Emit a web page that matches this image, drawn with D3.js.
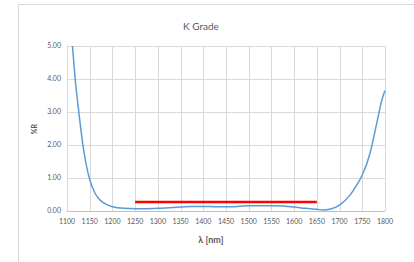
<!DOCTYPE html>
<html>
<head>
<meta charset="utf-8">
<script src="https://cdn.jsdelivr.net/npm/d3@7"></script>
<style>
  body { margin: 0; background: #fff; }
  svg { display: block; }
</style>
</head>
<body>
<svg id="chart" width="414" height="262"></svg>
<script>
// wavelength (nm) and reflectance (%R)
const wavelengths = [1112, 1118, 1126, 1135, 1149, 1162, 1173, 1187, 1200, 1225, 1250, 1275, 1300, 1325, 1350, 1375, 1400, 1425, 1450, 1475, 1500, 1525, 1550, 1575, 1600, 1625, 1650, 1665, 1680, 1700, 1723, 1738, 1750, 1767, 1782, 1793, 1800];
const reflectance = [5.0, 4.0, 3.0, 2.0, 1.0, 0.53, 0.33, 0.2, 0.13, 0.08, 0.07, 0.07, 0.08, 0.10, 0.12, 0.14, 0.14, 0.13, 0.13, 0.14, 0.16, 0.16, 0.16, 0.15, 0.12, 0.08, 0.05, 0.03, 0.06, 0.18, 0.48, 0.79, 1.09, 1.75, 2.67, 3.36, 3.65];
// spec limit line
const specRange = [1250, 1650];
const specValue = 0.27;

const xTicks = d3.range(1100, 1801, 50);
const yTicks = [0, 1, 2, 3, 4, 5];

const svg = d3.select('#chart');
const font = 'Lato, "Open Sans", sans-serif';

// chart area border
svg.append('rect')
  .attr('x', 18.5).attr('y', 4.5)
  .attr('width', 420).attr('height', 280)
  .attr('fill', '#fff')
  .attr('stroke', '#d9d9d9');

const x = d3.scaleLinear().domain([1100, 1800]).range([67, 385]);
const y = d3.scaleLinear().domain([0, 5]).range([211, 46]);

// gridlines
const grid = svg.append('g').attr('stroke', '#d9d9d9').attr('stroke-width', 1);
grid.selectAll('line.v')
  .data(xTicks)
  .join('line')
  .attr('x1', d => Math.round(x(d)) + 0.5).attr('x2', d => Math.round(x(d)) + 0.5)
  .attr('y1', y(5)).attr('y2', y(0));
grid.selectAll('line.h')
  .data(yTicks)
  .join('line')
  .attr('x1', x(1100)).attr('x2', x(1800))
  .attr('y1', d => Math.round(y(d)) + 0.5).attr('y2', d => Math.round(y(d)) + 0.5)
  .attr('stroke', d => d === 0 ? '#bfbfbf' : '#d9d9d9');

// tick labels
svg.append('g')
  .selectAll('text')
  .data(yTicks)
  .join('text')
  .attr('x', 61)
  .attr('y', d => y(d))
  .attr('dy', '0.35em')
  .attr('text-anchor', 'end')
  .style('font-family', font)
  .style('font-size', '7px')
  .style('fill', '#595959')
  .text(d => d3.format('.2f')(d));

svg.append('g')
  .selectAll('text')
  .data(xTicks)
  .join('text')
  .attr('x', d => x(d))
  .attr('y', 222)
  .attr('dy', '0.35em')
  .attr('text-anchor', 'middle')
  .style('font-family', font)
  .style('font-size', '7px')
  .style('fill', '#595959')
  .text(d => d);

// titles
svg.append('text')
  .attr('x', 201).attr('y', 26).attr('dy', '0.35em')
  .attr('text-anchor', 'middle')
  .style('font-family', font)
  .style('font-size', '10px')
  .style('fill', '#595959')
  .text('K Grade');

svg.append('text')
  .attr('x', 211).attr('y', 240).attr('dy', '0.35em')
  .attr('text-anchor', 'middle')
  .style('font-family', font)
  .style('font-size', '9px')
  .style('font-weight', 'bold')
  .style('fill', '#595959')
  .text('λ [nm]');

svg.append('text')
  .attr('transform', 'translate(35,129) rotate(-90)')
  .attr('dy', '0.35em')
  .attr('text-anchor', 'middle')
  .style('font-family', font)
  .style('font-size', '7px')
  .style('font-weight', 'bold')
  .style('fill', '#595959')
  .text('%R');

// spec line
svg.append('line')
  .attr('x1', x(specRange[0])).attr('x2', x(specRange[1]))
  .attr('y1', y(specValue)).attr('y2', y(specValue))
  .attr('stroke', '#ff0000')
  .attr('stroke-width', 2.5);

// reflectance curve
const line = d3.line()
  .x((d, i) => x(wavelengths[i]))
  .y(d => y(d))
  .curve(d3.curveMonotoneX);

svg.append('path')
  .datum(reflectance)
  .attr('d', line)
  .attr('fill', 'none')
  .attr('stroke', '#5b9bd5')
  .attr('stroke-width', 1.5);
</script>
</body>
</html>
